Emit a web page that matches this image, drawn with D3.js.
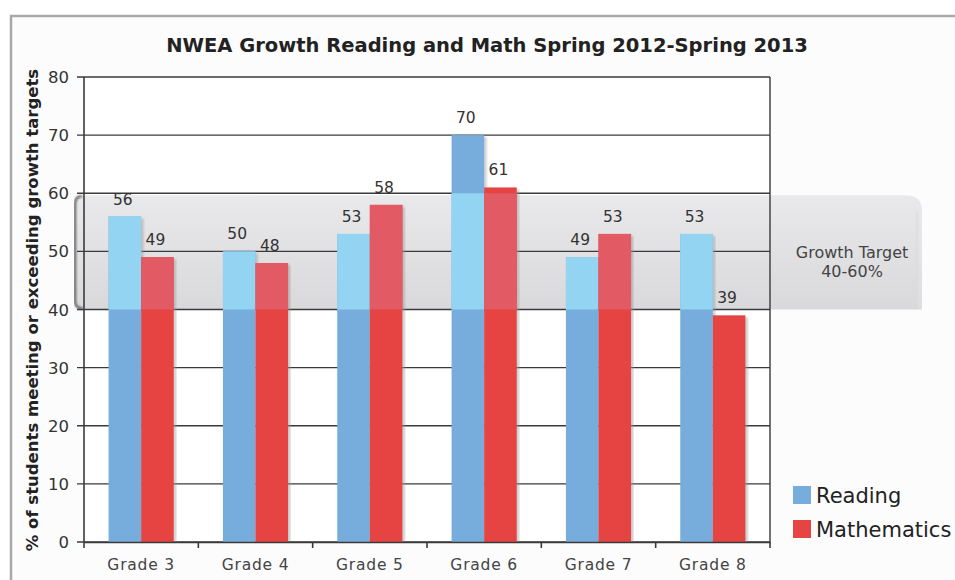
<!DOCTYPE html>
<html>
<head>
<meta charset="utf-8">
<script src="https://cdn.jsdelivr.net/npm/d3@7"></script>
<style>
  body { margin: 0; background: #fff; }
  svg { display: block; font-family: "DejaVu Sans", Verdana, sans-serif; }
</style>
</head>
<body>
<div id="chart"></div>
<script>
// chart data
const grades = ["Grade 3", "Grade 4", "Grade 5", "Grade 6", "Grade 7", "Grade 8"];
const reading = [56, 50, 53, 70, 49, 53];
const math = [49, 48, 58, 61, 53, 39];
const yTicks = [0, 10, 20, 30, 40, 50, 60, 70, 80];
const targetRange = [40, 60];
const seriesNames = ["Reading", "Mathematics"];

const width = 955, height = 580;
const plotL = 84, plotR = 770, plotT = 77, plotB = 542;

const svg = d3.select("#chart").append("svg")
  .attr("width", width)
  .attr("height", height);

const defs = svg.append("defs");
const grad = defs.append("linearGradient").attr("id", "bandGrad")
  .attr("x1", 0).attr("y1", 0).attr("x2", 0).attr("y2", 1);
grad.append("stop").attr("offset", "0%").attr("stop-color", "#e9e9eb");
grad.append("stop").attr("offset", "100%").attr("stop-color", "#d9d9db");
const fade = defs.append("linearGradient").attr("id", "bandFade")
  .attr("x1", 0).attr("y1", 0).attr("x2", 1).attr("y2", 0);
fade.append("stop").attr("offset", "0%").attr("stop-color", "#d6d6d8").attr("stop-opacity", 0.6);
fade.append("stop").attr("offset", "100%").attr("stop-color", "#fff").attr("stop-opacity", 0);
defs.append("filter").attr("id", "blur").append("feGaussianBlur").attr("stdDeviation", 1.2);

// outer frame
svg.append("rect")
  .attr("x", 11).attr("y", 16).attr("width", 960).attr("height", 580)
  .attr("fill", "#fcfcfd").attr("stroke", "#a9a9ab").attr("stroke-width", 2.5);

const x = d3.scaleBand().domain(grades).range([plotL, plotR])
  .paddingInner(0.43).paddingOuter(0.215);
const x1 = d3.scaleBand().domain(seriesNames).range([0, x.bandwidth()]);
const y = d3.scaleLinear().domain([0, 80]).range([plotB, plotT]);

// plot background
svg.append("rect")
  .attr("x", plotL).attr("y", plotT).attr("width", plotR - plotL).attr("height", plotB - plotT)
  .attr("fill", "#fff");

// growth target band
const bTop = y(targetRange[1]) + 2, bBot = y(targetRange[0]);
const bandL = 74, bandR = 922, r = 16;
svg.append("path")
  .attr("d", `M${bandL + 8},${bTop} L${bandR - r},${bTop} Q${bandR},${bTop} ${bandR},${bTop + r}
    L${bandR},${bBot} L${bandL + 8},${bBot} Q${bandL},${bBot} ${bandL},${bBot - 8}
    L${bandL},${bTop + 8} Q${bandL},${bTop} ${bandL + 8},${bTop} Z`)
  .attr("fill", "url(#bandGrad)");
svg.append("rect")
  .attr("x", bandR - 6).attr("y", bTop + r).attr("width", 8).attr("height", bBot - bTop - r)
  .attr("fill", "url(#bandFade)");
// left bracket
svg.append("path")
  .attr("d", `M${bandL + 8},${bTop + 1} Q${bandL + 1},${bTop + 1} ${bandL + 1},${bTop + 9}
    L${bandL + 1},${bBot - 9} Q${bandL + 1},${bBot - 1} ${bandL + 9},${bBot - 1}`)
  .attr("fill", "none").attr("stroke", "#555").attr("stroke-width", 2.2)
  .attr("filter", "url(#blur)");

// gridlines and ticks
svg.append("g").selectAll("line").data(yTicks).join("line")
  .attr("x1", plotL - 7).attr("x2", plotR)
  .attr("y1", d => y(d)).attr("y2", d => y(d))
  .attr("stroke", "#3a3a3a").attr("stroke-width", 1.4);

svg.append("g").selectAll("text").data(yTicks).join("text")
  .attr("x", 69).attr("y", d => y(d) + 6)
  .attr("text-anchor", "end")
  .attr("font-size", 16.5).attr("fill", "#333")
  .text(d => d);

// bars
const series = [
  { name: "Reading", values: reading, color: "#76addd", light: "#92d4f1" },
  { name: "Mathematics", values: math, color: "#e64343", light: "#e15a64" }
];
const barG = svg.append("g");
series.forEach(s => {
  const bx = (g) => x(g) + x1(s.name);
  // faint shadow on the right side
  barG.selectAll(null).data(grades).join("rect")
    .attr("x", g => bx(g) + x1.bandwidth() - 1)
    .attr("y", (g, i) => y(s.values[i]) + 2)
    .attr("width", 3.5)
    .attr("height", (g, i) => plotB - y(s.values[i]) - 2)
    .attr("fill", "#999").attr("opacity", 0.5).attr("filter", "url(#blur)");
  barG.selectAll(null).data(grades).join("rect")
    .attr("x", bx)
    .attr("y", (g, i) => y(s.values[i]))
    .attr("width", x1.bandwidth())
    .attr("height", (g, i) => plotB - y(s.values[i]))
    .attr("fill", s.color);
  // lighter part inside the target band
  barG.selectAll(null).data(grades).join("rect")
    .attr("x", bx)
    .attr("y", (g, i) => y(Math.min(s.values[i], targetRange[1])))
    .attr("width", x1.bandwidth())
    .attr("height", (g, i) => Math.max(0, y(targetRange[0]) - y(Math.min(s.values[i], targetRange[1]))))
    .attr("fill", s.light);
  // value labels
  barG.selectAll(null).data(grades).join("text")
    .attr("x", g => bx(g) + x1.bandwidth() / 2 - 2)
    .attr("y", (g, i) => y(s.values[i]) - 12)
    .attr("text-anchor", "middle")
    .attr("font-size", 15.5).attr("fill", "#333")
    .text((g, i) => s.values[i]);
});

// band bottom shadow line
svg.append("line")
  .attr("x1", bandL + 6).attr("x2", bandR + 2)
  .attr("y1", bBot + 1).attr("y2", bBot + 1)
  .attr("stroke", "#333").attr("stroke-width", 3)
  .attr("opacity", 0.8).attr("filter", "url(#blur)");

svg.append("text")
  .attr("x", 852).attr("y", 258)
  .attr("text-anchor", "middle").attr("font-size", 16).attr("fill", "#444")
  .text("Growth Target");
svg.append("text")
  .attr("x", 852).attr("y", 277)
  .attr("text-anchor", "middle").attr("font-size", 16).attr("fill", "#444")
  .text("40-60%");

// plot frame
svg.append("line").attr("x1", plotL).attr("x2", plotL).attr("y1", plotT).attr("y2", plotB)
  .attr("stroke", "#3a3a3a").attr("stroke-width", 1.6);
svg.append("line").attr("x1", plotR).attr("x2", plotR).attr("y1", plotT).attr("y2", plotB)
  .attr("stroke", "#3a3a3a").attr("stroke-width", 1.4);

// x axis
const xAxis = svg.append("g")
  .attr("transform", `translate(0,${plotB})`)
  .call(d3.axisBottom(x).tickSize(0).tickPadding(17));
xAxis.select(".domain").attr("stroke", "#3a3a3a").attr("stroke-width", 1.6);
xAxis.selectAll("text").attr("font-size", 15.5).attr("fill", "#444")
  .attr("letter-spacing", 0.8)
  .attr("font-family", "DejaVu Sans, sans-serif");
const bounds = grades.map(g => x(g) - x.step() * x.paddingInner() / 2).concat([plotR]);
svg.append("g").selectAll("line").data(bounds).join("line")
  .attr("x1", d => d).attr("x2", d => d)
  .attr("y1", plotB).attr("y2", plotB + 6)
  .attr("stroke", "#3a3a3a").attr("stroke-width", 1.6);

// title
svg.append("text")
  .attr("x", 487).attr("y", 52)
  .attr("text-anchor", "middle")
  .attr("font-size", 19.5).attr("font-weight", "bold").attr("fill", "#222")
  .text("NWEA Growth Reading and Math Spring 2012-Spring 2013");

// y axis title
svg.append("text")
  .attr("transform", `translate(38,310) rotate(-90)`)
  .attr("text-anchor", "middle")
  .attr("font-size", 16.5).attr("font-weight", "bold").attr("fill", "#222")
  .text("% of students meeting or exceeding growth targets");

// legend
const legend = svg.append("g");
series.forEach((s, i) => {
  legend.append("rect")
    .attr("x", 793).attr("y", 486 + i * 34).attr("width", 18).attr("height", 18)
    .attr("fill", s.color);
  legend.append("text")
    .attr("x", 816).attr("y", 503 + i * 34)
    .attr("font-size", 21).attr("fill", "#222")
    .text(s.name);
});
</script>
</body>
</html>
